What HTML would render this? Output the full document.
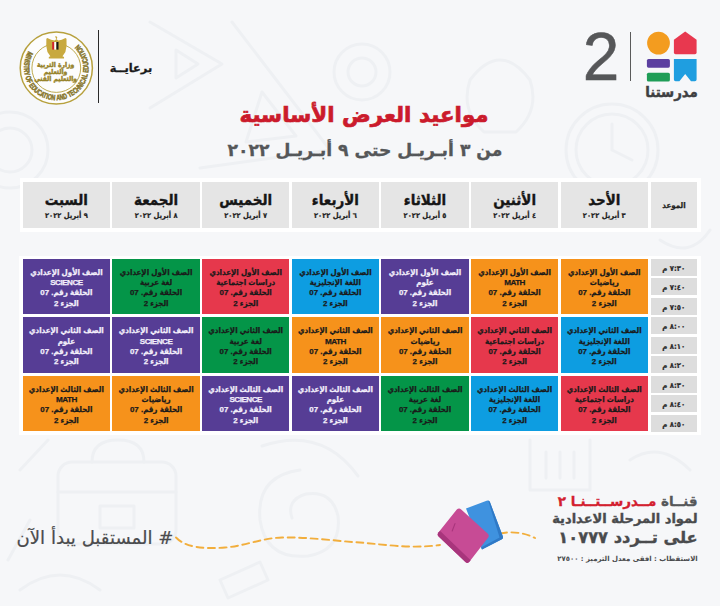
<!DOCTYPE html>
<html lang="ar"><head><meta charset="utf-8"><title>مواعيد العرض الأساسية</title>
<style>
html,body{margin:0;padding:0}
body{width:720px;height:606px;overflow:hidden;background:#f6f7f9;position:relative;font-family:"Liberation Sans","DejaVu Sans",sans-serif;color:#222}
.abs{position:absolute}
.hd{position:absolute;top:181.7px;height:46.6px;background:#e5e5e5;text-align:center;direction:rtl}
.hd .d{position:absolute;left:0;right:0;top:8.5px;font-weight:bold;font-size:15px;line-height:20px;-webkit-text-stroke:.35px #161616;color:#161616;font-family:"DejaVu Sans Condensed","DejaVu Sans",sans-serif}
.hd .s{position:absolute;left:0;right:0;top:29.5px;font-weight:bold;font-size:7.5px;line-height:9px;-webkit-text-stroke:.2px #222;color:#222;font-family:"DejaVu Sans Condensed","DejaVu Sans",sans-serif}
.c{position:absolute;width:87.4px;height:55.3px;text-align:center;direction:rtl;font-weight:bold;font-size:7.9px;line-height:10.25px;color:#1a1a1a;-webkit-text-stroke:.25px currentColor;font-family:"Liberation Sans","DejaVu Sans Condensed","DejaVu Sans",sans-serif}
.c p{margin:0;white-space:nowrap}
.c p:first-child{padding-top:9px}
.c.w{color:#f3effb}
.c p.l{font-size:8.1px;letter-spacing:-.5px}
.t{position:absolute;left:650.8px;width:46px;height:16px;padding-top:1px;background:#dddddd;text-align:center;direction:rtl;font-weight:bold;font-size:7.7px;-webkit-text-stroke:.2px #2a2a2a;line-height:17px;color:#2a2a2a;font-family:"DejaVu Sans Condensed","DejaVu Sans",sans-serif}
</style></head><body>
<svg class="abs" style="left:0;top:0" width="720" height="606" viewBox="0 0 720 606" fill="none" stroke="#eef0f3" stroke-width="3" stroke-linecap="round" stroke-linejoin="round">
  <path d="M150 22 L222 64 L150 108 M176 50 L198 64 L176 78 Z"/>
  <path d="M232 22 L330 150 L200 168 M262 92 L296 136 L246 142 Z"/>
  <circle cx="10" cy="150" r="38"/><circle cx="10" cy="150" r="22"/>
  <circle cx="362" cy="72" r="28"/><circle cx="362" cy="72" r="14"/>
  <circle cx="612" cy="150" r="46"/><circle cx="612" cy="150" r="36"/><path d="M612 150 L612 124 M612 150 L632 160"/>
  <path d="M470 80 q30 -40 60 0 q10 30 -14 52 h-32 q-24 -22 -14 -52z"/>
  <rect x="58" y="462" width="118" height="82" rx="14"/><path d="M58 492 H176 M92 462 q0 -22 26 -22 q26 0 26 22 M100 506 h34 v22 h-34z"/>
  <path d="M300 470 q-44 6 -40 50 q6 40 48 36 q34 -6 30 -40 q-6 -26 -32 -22 q-20 6 -14 24"/>
  <path d="M262 446 q60 -20 96 30 M20 470 L48 440 M30 520 L8 560"/>
  <path d="M530 440 v50 h60 v-50 M546 452 v26 M560 452 v26 M574 452 v26"/>
  <path d="M20 590 q40 -30 80 0 M220 580 l40 -18 8 18 -40 18z"/>
  <path d="M660 240 q30 20 50 -10 M690 470 q-30 -30 -60 -10"/>
</svg>
<div class="abs" style="left:19.5px;top:177.5px;width:681px;height:54px;background:#fff"></div>
<div class="abs" style="left:19px;top:255.5px;width:681.5px;height:179px;background:#fff"></div>
<div class="hd" style="left:22.7px;width:87.4px"><div class="d">السبت</div><div class="s">٩ أبريل ٢٠٢٢</div></div>
<div class="hd" style="left:112.4px;width:87.4px"><div class="d">الجمعة</div><div class="s">٨ أبريل ٢٠٢٢</div></div>
<div class="hd" style="left:202.0px;width:87.4px"><div class="d">الخميس</div><div class="s">٧ أبريل ٢٠٢٢</div></div>
<div class="hd" style="left:291.7px;width:87.4px"><div class="d">الأربعاء</div><div class="s">٦ أبريل ٢٠٢٢</div></div>
<div class="hd" style="left:381.3px;width:87.4px"><div class="d">الثلاثاء</div><div class="s">٥ أبريل ٢٠٢٢</div></div>
<div class="hd" style="left:470.9px;width:87.4px"><div class="d">الأثنين</div><div class="s">٤ أبريل ٢٠٢٢</div></div>
<div class="hd" style="left:560.6px;width:87.4px"><div class="d">الأحد</div><div class="s">٣ أبريل ٢٠٢٢</div></div>
<div class="hd" style="left:650.8px;width:46.4px"><div class="s" style="top:19.6px;font-size:7.9px;-webkit-text-stroke:.25px #222">الموعد</div></div>
<div class="c w" style="left:22.7px;top:258.9px;background:#563d95"><p>الصف الأول الإعدادي</p><p class="l">SCIENCE</p><p>الحلقة رقم. 07</p><p>الجزء 2</p></div>
<div class="c" style="left:112.4px;top:258.9px;background:#049548"><p>الصف الأول الإعدادي</p><p>لغة عربية</p><p>الحلقة رقم. 07</p><p>الجزء 2</p></div>
<div class="c" style="left:202.0px;top:258.9px;background:#e6384c"><p>الصف الأول الإعدادي</p><p>دراسات اجتماعية</p><p>الحلقة رقم. 07</p><p>الجزء 2</p></div>
<div class="c" style="left:291.7px;top:258.9px;background:#0d9de1"><p>الصف الأول الإعدادي</p><p>اللغة الإنجليزية</p><p>الحلقة رقم. 07</p><p>الجزء 2</p></div>
<div class="c w" style="left:381.3px;top:258.9px;background:#563d95"><p>الصف الأول الإعدادي</p><p>علوم</p><p>الحلقة رقم. 07</p><p>الجزء 2</p></div>
<div class="c" style="left:470.9px;top:258.9px;background:#f6921b"><p>الصف الأول الإعدادي</p><p class="l">MATH</p><p>الحلقة رقم. 07</p><p>الجزء 2</p></div>
<div class="c" style="left:560.6px;top:258.9px;background:#f6921b"><p>الصف الأول الإعدادي</p><p>رياضيات</p><p>الحلقة رقم. 07</p><p>الجزء 2</p></div>
<div class="c w" style="left:22.7px;top:317.3px;background:#563d95"><p>الصف الثاني الإعدادي</p><p>علوم</p><p>الحلقة رقم. 07</p><p>الجزء 2</p></div>
<div class="c w" style="left:112.4px;top:317.3px;background:#563d95"><p>الصف الثاني الإعدادي</p><p class="l">SCIENCE</p><p>الحلقة رقم. 07</p><p>الجزء 2</p></div>
<div class="c" style="left:202.0px;top:317.3px;background:#049548"><p>الصف الثاني الإعدادي</p><p>لغة عربية</p><p>الحلقة رقم. 07</p><p>الجزء 2</p></div>
<div class="c" style="left:291.7px;top:317.3px;background:#f6921b"><p>الصف الثاني الإعدادي</p><p class="l">MATH</p><p>الحلقة رقم. 07</p><p>الجزء 2</p></div>
<div class="c" style="left:381.3px;top:317.3px;background:#f6921b"><p>الصف الثاني الإعدادي</p><p>رياضيات</p><p>الحلقة رقم. 07</p><p>الجزء 2</p></div>
<div class="c" style="left:470.9px;top:317.3px;background:#e6384c"><p>الصف الثاني الإعدادي</p><p>دراسات اجتماعية</p><p>الحلقة رقم. 07</p><p>الجزء 2</p></div>
<div class="c" style="left:560.6px;top:317.3px;background:#0d9de1"><p>الصف الثاني الإعدادي</p><p>اللغة الإنجليزية</p><p>الحلقة رقم. 07</p><p>الجزء 2</p></div>
<div class="c" style="left:22.7px;top:375.8px;background:#f6921b"><p>الصف الثالث الإعدادي</p><p class="l">MATH</p><p>الحلقة رقم. 07</p><p>الجزء 2</p></div>
<div class="c" style="left:112.4px;top:375.8px;background:#f6921b"><p>الصف الثالث الإعدادي</p><p>رياضيات</p><p>الحلقة رقم. 07</p><p>الجزء 2</p></div>
<div class="c w" style="left:202.0px;top:375.8px;background:#563d95"><p>الصف الثالث الإعدادي</p><p class="l">SCIENCE</p><p>الحلقة رقم. 07</p><p>الجزء 2</p></div>
<div class="c w" style="left:291.7px;top:375.8px;background:#563d95"><p>الصف الثالث الإعدادي</p><p>علوم</p><p>الحلقة رقم. 07</p><p>الجزء 2</p></div>
<div class="c" style="left:381.3px;top:375.8px;background:#049548"><p>الصف الثالث الإعدادي</p><p>لغة عربية</p><p>الحلقة رقم. 07</p><p>الجزء 2</p></div>
<div class="c" style="left:470.9px;top:375.8px;background:#0d9de1"><p>الصف الثالث الإعدادي</p><p>اللغة الإنجليزية</p><p>الحلقة رقم. 07</p><p>الجزء 2</p></div>
<div class="c" style="left:560.6px;top:375.8px;background:#e6384c"><p>الصف الثالث الإعدادي</p><p>دراسات اجتماعية</p><p>الحلقة رقم. 07</p><p>الجزء 2</p></div>
<div class="t" style="top:258.9px">٧:٣٠ م</div>
<div class="t" style="top:278.4px">٧:٤٠ م</div>
<div class="t" style="top:297.8px">٧:٥٠ م</div>
<div class="t" style="top:317.3px">٨:٠٠ م</div>
<div class="t" style="top:336.8px">٨:١٠ م</div>
<div class="t" style="top:356.2px">٨:٢٠ م</div>
<div class="t" style="top:375.7px">٨:٣٠ م</div>
<div class="t" style="top:395.2px">٨:٤٠ م</div>
<div class="t" style="top:414.7px">٨:٥٠ م</div>
<!-- ministry logo -->
<svg class="abs" style="left:15px;top:28px" width="82" height="82" viewBox="0 0 82 82">
  <defs><path id="ring" d="M 13.6 23.2 A 32.3 32.3 0 1 0 62.9 16"/></defs>
  <circle cx="41.3" cy="40" r="36.1" fill="#fdfdfd" stroke="#b7a13e" stroke-width="1.5"/>
  <circle cx="41.3" cy="40" r="24.4" fill="none" stroke="#b7a13e" stroke-width="0.9"/>
  <text font-family="Liberation Sans, sans-serif" font-weight="bold" font-size="7.7" fill="#86752a" stroke="#86752a" stroke-width="0.5" textLength="145" lengthAdjust="spacingAndGlyphs"><textPath href="#ring">MINISTRY OF EDUCATION AND TECHNICAL EDUCATION</textPath></text>
  <!-- eagle -->
  <path transform="translate(40.3 0) scale(1.12 1.04) translate(-40.3 -0.6)" d="M40.3 8.2 q1.6 0.2 1.8 1.6 l-0.7 1.5 1.6 1.3 q3 -0.2 6.4 -2.4 l0.9 0.8 q0.6 7 -1 12.6 l-2.6 4.2 1.4 0.6 v1.6 h-13.6 v-1.6 l1.4 -0.6 -2.6 -4.2 q-1.6 -5.6 -1 -12.6 l0.9 -0.8 q3.4 2.2 6.4 2.4 l1.6 -1.3 -0.7 -1.5z" fill="#c8a93f"/>
  <rect x="37.2" y="14" width="2.1" height="7.6" fill="#d3212d"/><rect x="39.3" y="14" width="2.1" height="7.6" fill="#fff"/><rect x="41.4" y="14" width="2.1" height="7.6" fill="#1a1a1a"/>
  <g font-family="DejaVu Sans Condensed, DejaVu Sans, sans-serif" font-weight="bold" font-size="6.7" fill="#98842c" stroke="#98842c" stroke-width="0.45" text-anchor="middle" direction="rtl">
  <text x="40.6" y="38.6">وزارة التربية</text>
  <text x="40.6" y="45.8">والتعليم</text>
  <text x="40.6" y="53">والتعليم الفني</text></g>
</svg>
<div class="abs" style="left:98.3px;top:30px;width:1.2px;height:72.5px;background:#2a2a2a"></div>
<div class="abs" id="bra" style="left:108px;top:59.5px;width:46px;text-align:center;direction:rtl;font:bold 11.4px/16px 'DejaVu Sans','Liberation Sans',sans-serif;color:#1a1a1a;-webkit-text-stroke:.3px #1a1a1a">برعايــة</div>

<!-- madrasetna 2 logo -->
<div class="abs" id="two" style="left:580px;top:20px;width:42px;text-align:center;font:68.5px/74px 'Liberation Sans',sans-serif;color:#565759;-webkit-text-stroke:.55px #565759;transform:scaleX(.96);transform-origin:50% 50%">2</div>
<div class="abs" style="left:629.6px;top:32px;width:1.5px;height:48.5px;background:#5a5a5a"></div>
<svg class="abs" style="left:644px;top:29px" width="56" height="56" viewBox="644 29 56 56">
  <circle cx="658.5" cy="43.1" r="11.4" fill="#f39c1f"/>
  <path d="M685.2 31.4 L696.6 39.8 V52.6 Q696.6 54.3 694.9 54.3 H675.6 Q673.9 54.3 673.9 52.6 V39.8 Z" fill="#e8384f"/>
  <rect x="646.9" y="58.9" width="23" height="8.8" rx="1.6" fill="#5b3fa0"/>
  <rect x="646.9" y="72.7" width="23" height="8.8" rx="1.6" fill="#1f9d57"/>
  <path d="M673.9 58.9 H696.6 V79.6 Q696.6 81.3 694.9 81.3 H691 L685.2 74 L679.4 81.3 H675.6 Q673.9 81.3 673.9 79.6 Z" fill="#1f9ee0"/>
</svg>
<div class="abs" id="mad" style="left:640px;top:82px;width:63px;text-align:center;direction:rtl;font:bold 14.8px/20px 'DejaVu Sans Condensed','DejaVu Sans',sans-serif;color:#3f4042;-webkit-text-stroke:.4px #3f4042">مدرستنا</div>

<!-- titles -->
<div class="abs" id="ttl" style="left:164px;top:100px;width:400px;text-align:center;direction:rtl;font:bold 21.4px/30px 'DejaVu Sans','Liberation Sans',sans-serif;color:#cb1b2c;-webkit-text-stroke:.7px #cb1b2c;white-space:nowrap">مواعيد العرض الأساسية</div>
<div class="abs" id="sub" style="left:165px;top:136px;width:400px;text-align:center;direction:rtl;font:bold 17.2px/28px 'DejaVu Sans','Liberation Sans',sans-serif;color:#555759;-webkit-text-stroke:.3px #555759;white-space:nowrap">من ٣ أبـريـل حتى ٩ أبـريـل ٢٠٢٢</div>

<!-- footer -->
<svg class="abs" style="left:170px;top:495px" width="380" height="75" viewBox="170 495 380 75">
  <path d="M176 537.5 C186 548 205 549 225 547.5 C245 546 262 538 282 537.5 C310 537 335 541 360 542.5 C385 544.5 410 549 440 545 M500 533.5 C512 531 524 532.5 535 538" fill="none" stroke="#f2ae3c" stroke-width="1.9" stroke-dasharray="7 4.5" stroke-linecap="round"/>
  <path d="M466 508.6 L486.6 500.8 Q489 499.9 490 502.3 L502.8 536.2 Q503.6 538.6 501.4 539.6 L482 549.6 Z" fill="#3f92df"/>
  <path d="M488.2 500.6 Q489.6 500.8 490 502.3 L502.8 536.2 Q503.6 538.6 501.4 539.6 L482 549.6 L481 547.4 L499.6 537.6 Z" fill="#2f79c6"/>
  <path d="M456.8 509.6 Q458.9 507.4 461.2 509.4 L487.6 533.4 Q489.8 535.4 488 537.8 L469.4 561.8 Q467.6 564 465.4 562 L438.6 536.6 Q436.6 534.6 438.6 532.2 Z" fill="#c74b95"/>
  <path d="M438.6 532.2 Q436.6 534.6 438.6 536.6 L465.4 562 Q467.6 564 469.4 561.8 L470.6 560.2 L440.2 531 Z" fill="#a8357c"/>
  <path d="M455 523.6 L452.2 531" stroke="#a8357c" stroke-width="1.1" stroke-linecap="round" fill="none"/>
</svg>
<div class="abs" id="hash" style="left:5px;top:525px;width:180px;text-align:center;direction:rtl;font:18.1px/26px 'DejaVu Sans','Liberation Sans',sans-serif;color:#4a4b4d;-webkit-text-stroke:.2px #4a4b4d;white-space:nowrap"># المستقبل يبدأ الآن</div>
<div class="abs" id="f1" style="right:22.3px;top:490.5px;direction:rtl;white-space:nowrap;font:bold 13.5px/20px 'DejaVu Sans','Liberation Sans',sans-serif;color:#555759;-webkit-text-stroke:.3px currentColor">قنــاة <span style="color:#d3202f">مــدرســتــنـا ٢</span></div>
<div class="abs" id="f2" style="right:22.3px;top:508.5px;direction:rtl;white-space:nowrap;font:bold 13.05px/20px 'DejaVu Sans','Liberation Sans',sans-serif;color:#4a4b4d;-webkit-text-stroke:.35px currentColor">لمواد المرحلة الاعدادية</div>
<div class="abs" id="f3" style="right:22.3px;top:527px;direction:rtl;white-space:nowrap;font:bold 16.3px/22px 'DejaVu Sans','Liberation Sans',sans-serif;color:#4a4b4d;-webkit-text-stroke:.35px currentColor">على تــردد ١٠٧٧٧</div>
<div class="abs" id="f4" style="right:22.3px;top:553px;direction:rtl;white-space:nowrap;font:bold 6.95px/12px 'DejaVu Sans','Liberation Sans',sans-serif;color:#4a4b4d">الاستقطاب : افقى معدل الترميز : ٢٧٥٠٠</div>

</body></html>
